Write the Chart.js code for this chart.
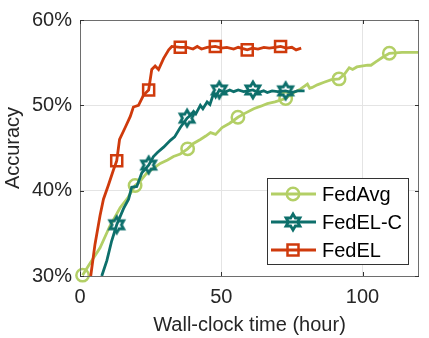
<!DOCTYPE html>
<html>
<head>
<meta charset="utf-8">
<script src="https://cdn.jsdelivr.net/npm/chart.js@4"></script>
<style>
  html, body { margin: 0; padding: 0; background: #fff; }
</style>
</head>
<body>
<canvas id="c" width="429" height="338"></canvas>
<script>
// ---- data ----
const seriesNames = ['FedAvg', 'FedEL-C', 'FedEL'];

const fedAvgTime = [0.9, 3, 7.1, 10.5, 14.2, 17, 19.5, 21, 23.7, 26, 28.4, 31, 33.1, 35.5, 38.1, 40, 42.6, 44.5, 46.2, 48, 50.3, 53, 55.9, 58, 61.5, 64, 66.3, 69, 72.8, 74, 75.7, 78, 80.5, 81.3, 82.2, 84, 86.4, 89, 91.7, 93.5, 95.3, 96.5, 98, 101.8, 103, 104.7, 107, 109.5, 114, 120];
const fedAvgAcc  = [30.1, 31.2, 33.3, 35.8, 38.0, 39.2, 40.6, 41.0, 42.1, 42.6, 43.2, 43.6, 44.0, 44.3, 44.9, 45.5, 46.0, 46.4, 46.8, 46.6, 47.4, 47.9, 48.6, 49.0, 49.6, 49.9, 50.2, 50.4, 50.8, 51.1, 51.5, 51.9, 52.5, 52.0, 52.1, 52.4, 52.7, 53.0, 53.1, 53.6, 54.4, 54.2, 54.5, 54.7, 54.7, 55.1, 55.6, 56.1, 56.2, 56.2];
const fedAvgMarks = [0, 6, 14, 22, 28, 38, 47];

const fedELCTime = [7.7, 9.5, 11.2, 13.0, 15.4, 17.2, 18.3, 20.1, 21.9, 24.3, 26.0, 27.5, 29.6, 32.0, 33.5, 35.5, 37.9, 39, 40.2, 41, 42.6, 43.5, 45, 46, 47.3, 48, 49.3, 51, 53, 54.4, 56, 57.9, 59.5, 61.2, 63, 65, 66.3, 68, 70, 72.8, 75, 77, 79.5];
const fedELCAcc  = [30.0, 31.8, 34.1, 36.0, 37.9, 39.0, 40.4, 40.5, 42.1, 43.0, 44.0, 44.5, 45.1, 45.9, 46.3, 47.4, 48.5, 48.8, 49.3, 49.0, 50.0, 49.6, 50.4, 50.1, 51.4, 51.0, 51.8, 51.5, 51.8, 51.6, 51.8, 51.6, 51.7, 51.8, 51.5, 51.7, 51.5, 51.7, 51.6, 51.7, 51.5, 51.7, 51.7];
const fedELCMarks = [3, 9, 16, 26, 33, 39];

const fedELTime = [3.8, 5.3, 7.1, 8.3, 10.1, 11.8, 13.0, 14.0, 16.0, 17.8, 18.9, 20.7, 22.5, 24.3, 25.4, 26.6, 27.8, 29.6, 31.4, 32.5, 35.5, 38, 40, 41.5, 43, 45, 47.9, 50, 52, 54.4, 56, 59.2, 61, 63, 65.1, 67, 69, 71, 73, 75, 76.5, 78.3];
const fedELAcc  = [30.0, 33.7, 37.1, 39.0, 40.7, 42.4, 43.5, 46.0, 47.4, 48.7, 49.8, 50.0, 51.2, 51.8, 54.2, 54.6, 54.2, 55.5, 56.5, 56.9, 56.8, 56.8, 56.6, 56.9, 56.6, 56.8, 56.9, 56.7, 56.8, 56.6, 56.8, 56.5, 56.7, 56.6, 56.8, 56.7, 56.8, 56.9, 56.7, 56.8, 56.5, 56.7];
const fedELMarks = [6, 13, 20, 26, 31, 37];

const xTicks = [0, 50, 100];
const yTicks = [30, 40, 50, 60];

// ---- styling ----
const GREEN = '#b3cf66';
const TEAL = '#0d6f6b';
const RED = '#cf3a0c';
const TEXT = '#262626';
const FONT = "'Liberation Sans', Arial, Helvetica, sans-serif";

function hexagram(color) {
  const s = 22, c = document.createElement('canvas');
  c.width = c.height = s;
  const g = c.getContext('2d');
  const R = 8, r = R / Math.sqrt(3);
  g.beginPath();
  for (let i = 0; i < 12; i++) {
    const a = -Math.PI / 2 + i * Math.PI / 6;
    const rad = i % 2 ? r : R;
    g.lineTo(s / 2 + rad * Math.cos(a), s / 2 + rad * Math.sin(a));
  }
  g.closePath();
  g.strokeStyle = color;
  g.lineWidth = 2.8;
  g.lineJoin = 'miter';
  g.stroke();
  return c;
}
const starImg = hexagram(TEAL);

const toPts = (xs, ys) => xs.map((x, i) => ({ x, y: ys[i] }));
const markRadius = (marks, r) => ctx => marks.includes(ctx.dataIndex) ? r : 0;

const datasets = [
  {
    label: seriesNames[0], data: toPts(fedAvgTime, fedAvgAcc), order: 2,
    borderColor: GREEN, backgroundColor: 'rgba(0,0,0,0)', borderWidth: 2.8,
    pointStyle: 'circle', pointRadius: markRadius(fedAvgMarks, 6.2), pointBorderWidth: 2.5,
    pointBorderColor: GREEN, pointBackgroundColor: 'rgba(0,0,0,0)'
  },
  {
    label: seriesNames[1], data: toPts(fedELCTime, fedELCAcc), order: 1,
    borderColor: TEAL, backgroundColor: 'rgba(0,0,0,0)', borderWidth: 2.8,
    pointStyle: starImg, pointRadius: markRadius(fedELCMarks, 8),
  },
  {
    label: seriesNames[2], data: toPts(fedELTime, fedELAcc), order: 0,
    borderColor: RED, backgroundColor: 'rgba(0,0,0,0)', borderWidth: 2.8,
    pointStyle: 'rect', pointRadius: markRadius(fedELMarks, 7.8), pointBorderWidth: 2.5,
    pointBorderColor: RED, pointBackgroundColor: 'rgba(0,0,0,0)'
  }
];

// frame with inward tick marks, MATLAB style
const framePlugin = {
  id: 'frame',
  afterDatasetsDraw(chart) {
    const { ctx, chartArea: a, scales: { x, y } } = chart;
    ctx.save();
    ctx.strokeStyle = '#6e6e6e';
    ctx.lineWidth = 1;
    ctx.strokeRect(a.left + 0.5, a.top + 0.5, a.right - a.left - 1, a.bottom - a.top);
    ctx.strokeStyle = '#333';
    ctx.beginPath();
    xTicks.forEach(v => {
      const px = Math.round(x.getPixelForValue(v)) + 0.5;
      ctx.moveTo(px, a.bottom); ctx.lineTo(px, a.bottom - 4);
      ctx.moveTo(px, a.top); ctx.lineTo(px, a.top + 4);
    });
    yTicks.forEach(v => {
      const py = Math.round(y.getPixelForValue(v)) + 0.5;
      ctx.moveTo(a.left, py); ctx.lineTo(a.left + 4, py);
      ctx.moveTo(a.right, py); ctx.lineTo(a.right - 4, py);
    });
    ctx.stroke();
    ctx.restore();
  }
};

// legend box inside the plot, bottom right
const legendPlugin = {
  id: 'boxLegend',
  afterDraw(chart) {
    const { ctx } = chart;
    const bx = 267.5, by = 178.5, bw = 141, bh = 86;
    ctx.save();
    ctx.fillStyle = '#fff';
    ctx.fillRect(bx, by, bw, bh);
    ctx.strokeStyle = '#333';
    ctx.lineWidth = 1;
    ctx.strokeRect(bx, by, bw, bh);
    const colors = [GREEN, TEAL, RED];
    ctx.font = '20px ' + FONT;
    ctx.textBaseline = 'middle';
    seriesNames.forEach((name, i) => {
      const cy = 194 + i * 28;
      ctx.strokeStyle = colors[i];
      ctx.lineWidth = 2.8;
      ctx.beginPath(); ctx.moveTo(271, cy); ctx.lineTo(316, cy); ctx.stroke();
      ctx.lineWidth = 2.5;
      if (i === 0) {
        ctx.beginPath(); ctx.arc(293, cy, 6.2, 0, Math.PI * 2); ctx.stroke();
      } else if (i === 1) {
        ctx.drawImage(starImg, 293 - starImg.width / 2, cy - starImg.height / 2);
      } else {
        ctx.strokeRect(293 - 5.5, cy - 5.5, 11, 11);
      }
      ctx.fillStyle = '#000';
      ctx.fillText(name, 322, cy + 1);
    });
    ctx.restore();
  }
};

new Chart(document.getElementById('c'), {
  type: 'line',
  data: { datasets },
  plugins: [framePlugin, legendPlugin],
  options: {
    responsive: false,
    animation: false,
    clip: false,
    layout: { padding: { top: 12, right: 10, left: 0, bottom: 0 } },
    plugins: { legend: { display: false }, tooltip: { enabled: false } },
    elements: { line: { tension: 0 } },
    scales: {
      x: {
        type: 'linear', min: 0, max: 120,
        afterBuildTicks: s => { s.ticks = xTicks.map(v => ({ value: v })); },
        afterFit: s => { s.height = 62; },
        grid: { color: '#e4e4e4', drawTicks: false },
        border: { display: false },
        ticks: { color: TEXT, font: { family: FONT, size: 20 }, padding: 9, maxRotation: 0 },
        title: { display: true, text: 'Wall-clock time (hour)', color: TEXT, font: { family: FONT, size: 20 }, padding: { top: 0, bottom: 1 } }
      },
      y: {
        min: 30, max: 60,
        afterBuildTicks: s => { s.ticks = yTicks.map(v => ({ value: v })); },
        afterFit: s => { s.width = 80; },
        grid: { color: '#e4e4e4', drawTicks: false },
        border: { display: false },
        ticks: { color: TEXT, font: { family: FONT, size: 20 }, padding: 8, callback: v => v + '%' },
        title: { display: true, text: 'Accuracy', color: TEXT, font: { family: FONT, size: 20 }, padding: { top: 1, bottom: 0 } }
      }
    }
  }
});
</script>
</body>
</html>
